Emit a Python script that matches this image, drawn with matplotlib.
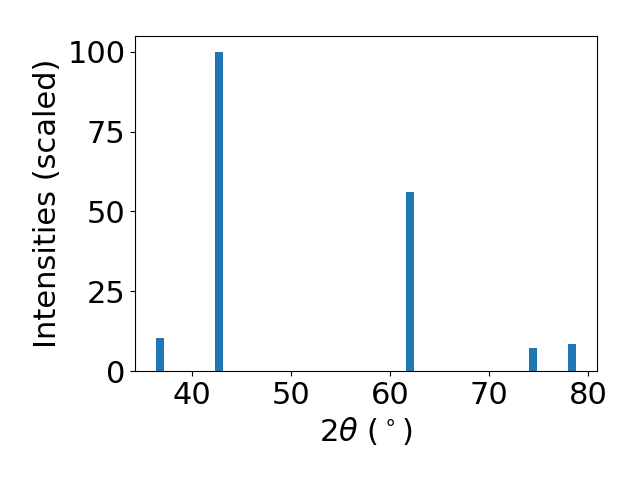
import matplotlib
matplotlib.use("Agg")
import matplotlib.pyplot as plt

# peak positions (2theta, deg) and scaled intensities
two_theta = [36.75, 42.69, 62.0, 74.4, 78.4]
intensities = [10.4, 100.0, 56.0, 7.2, 8.5]

plt.rcParams["font.size"] = 22

fig, ax = plt.subplots(figsize=(6.4, 4.8), dpi=100)
ax.bar(two_theta, intensities, width=0.8, color="#1f77b4")
ax.set_xlabel(r"2$\theta$ ($^\circ$)")
ax.set_ylabel("Intensities (scaled)")
ax.set_yticks([0, 25, 50, 75, 100])
fig.subplots_adjust(left=0.211, right=0.933, top=0.925, bottom=0.227)
fig.savefig("out.png")
